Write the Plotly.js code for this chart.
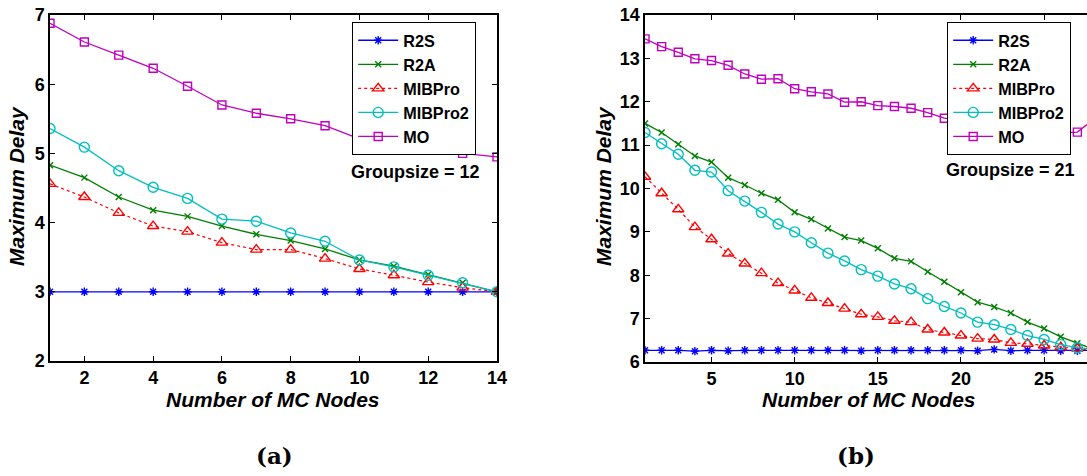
<!DOCTYPE html>
<html>
<head>
<meta charset="utf-8">
<script src="https://cdn.plot.ly/plotly-3.0.1.min.js"></script>
<style>
html, body { margin: 0; padding: 0; overflow: hidden; background: #fff; width: 1087px; height: 476px; }
#chart { width: 1110px; height: 476px; }
</style>
</head>
<body>
<div id="chart"></div>
<script>
// ---------- data: panel (a), Groupsize = 12 ----------
const nodesA = [1, 2, 3, 4, 5, 6, 7, 8, 9, 10, 11, 12, 13, 14];
const r2sA    = [3, 3, 3, 3, 3, 3, 3, 3, 3, 3, 3, 3, 3, 3];
const r2aA    = [4.83, 4.65, 4.37, 4.18, 4.09, 3.95, 3.83, 3.74, 3.62, 3.46, 3.37, 3.25, 3.13, 3.0];
const mibproA = [4.56, 4.37, 4.14, 3.95, 3.87, 3.71, 3.61, 3.61, 3.48, 3.33, 3.24, 3.14, 3.06, 3.0];
const mibpro2A= [5.36, 5.09, 4.75, 4.51, 4.35, 4.05, 4.02, 3.85, 3.73, 3.46, 3.36, 3.24, 3.13, 3.0];
const moA     = [6.88, 6.61, 6.42, 6.23, 5.97, 5.70, 5.58, 5.50, 5.40, 5.21, 5.15, 5.05, 5.00, 4.95];

// ---------- data: panel (b), Groupsize = 21 ----------
const nodesB = [1, 2, 3, 4, 5, 6, 7, 8, 9, 10, 11, 12, 13, 14, 15, 16, 17, 18, 19, 20, 21, 22, 23, 24, 25, 26, 27, 28];
const r2sB    = [6.27, 6.27, 6.27, 6.25, 6.27, 6.26, 6.27, 6.27, 6.27, 6.27, 6.27, 6.27, 6.27, 6.26, 6.27, 6.27, 6.27, 6.27, 6.27, 6.27, 6.26, 6.29, 6.26, 6.27, 6.27, 6.26, 6.26, 6.27];
const r2aB    = [11.50, 11.29, 11.02, 10.75, 10.61, 10.25, 10.08, 9.89, 9.74, 9.45, 9.29, 9.08, 8.88, 8.80, 8.62, 8.39, 8.32, 8.08, 7.85, 7.61, 7.38, 7.27, 7.13, 6.92, 6.77, 6.58, 6.43, 6.29];
const mibproB = [10.27, 9.89, 9.52, 9.11, 8.83, 8.50, 8.27, 8.05, 7.82, 7.65, 7.48, 7.36, 7.23, 7.10, 7.04, 6.95, 6.92, 6.75, 6.68, 6.61, 6.54, 6.52, 6.44, 6.42, 6.38, 6.34, 6.31, 6.27];
const mibpro2B= [11.29, 11.03, 10.79, 10.42, 10.38, 9.95, 9.71, 9.45, 9.18, 9.00, 8.75, 8.51, 8.33, 8.13, 7.98, 7.80, 7.69, 7.46, 7.28, 7.13, 6.92, 6.86, 6.75, 6.61, 6.52, 6.40, 6.33, 6.29];
const moB     = [13.45, 13.27, 13.14, 12.99, 12.95, 12.84, 12.64, 12.52, 12.53, 12.30, 12.23, 12.18, 11.99, 12.00, 11.91, 11.89, 11.85, 11.75, 11.62, 11.56, 11.50, 11.45, 11.40, 11.36, 11.32, 11.28, 11.30, 11.60];

const seriesNames = ['R2S', 'R2A', 'MIBPro', 'MIBPro2', 'MO'];
const xTicksA = [2, 4, 6, 8, 10, 12, 14];
const yTicksA = [2, 3, 4, 5, 6, 7];
const xTicksB = [5, 10, 15, 20, 25];
const yTicksB = [6, 7, 8, 9, 10, 11, 12, 13, 14];
const groupLabels = ['Groupsize = 12', 'Groupsize = 21'];
const xTitle = 'Number of MC Nodes';
const yTitle = 'Maximum Delay';
const captions = ['(a)', '(b)'];

// ---------- styles ----------
const styles = [
  {color: '#0000ff', symbol: 'asterisk-open', size: 7, dash: 'solid'},
  {color: '#007f00', symbol: 'x-thin-open', size: 6, dash: 'solid'},
  {color: '#ff0000', symbol: 'triangle-up-open', size: 10, dash: 'dot'},
  {color: '#00bfbf', symbol: 'circle-open', size: 10, dash: 'solid'},
  {color: '#bf00bf', symbol: 'square-open', size: 8, dash: 'solid'}
];

const W = 1110, H = 476;
const px = v => v / W;
const py = v => 1 - v / H;

function makeTraces(x, ys, xa, ya, legendId) {
  return ys.map((y, i) => ({
    type: 'scatter', mode: 'lines+markers',
    x: x, y: y, name: seriesNames[i],
    xaxis: xa, yaxis: ya, legend: legendId,
    line: {color: styles[i].color, width: styles[i].dash === 'dot' ? 1.2 : 1.3, dash: styles[i].dash},
    marker: {symbol: styles[i].symbol, size: styles[i].size, color: styles[i].color,
             line: {color: styles[i].color, width: 1.4}}
  }));
}

const traces = [
  ...makeTraces(nodesA, [r2sA, r2aA, mibproA, mibpro2A, moA], 'x', 'y', 'legend'),
  ...makeTraces(nodesB, [r2sB, r2aB, mibproB, mibpro2B, moB], 'x2', 'y2', 'legend2')
];

const tickFont = {family: 'Liberation Sans, Arial, sans-serif', size: 18, color: '#000', weight: 'bold'};
const axisCommon = {
  showgrid: false, zeroline: false, showline: true, linecolor: '#000', linewidth: 1.6,
  mirror: 'ticks', ticks: 'inside', ticklen: 5, tickwidth: 1, tickcolor: '#000',
  tickfont: tickFont, tickmode: 'array'
};

const legendCommon = {
  bgcolor: '#fff', bordercolor: '#000', borderwidth: 1.2,
  font: {family: 'Liberation Sans, Arial, sans-serif', size: 16.2, color: '#000', weight: 'bold'},
  xanchor: 'left', yanchor: 'top', tracegroupgap: 0, itemwidth: 40
};

const titleFont = {family: 'Liberation Sans, Arial, sans-serif', size: 21, color: '#000', weight: 'bold', style: 'italic'};
const textFont = {family: 'Liberation Sans, Arial, sans-serif', size: 18, color: '#000', weight: 'bold'};
const capFont = {family: 'DejaVu Serif, serif', size: 23, color: '#000', weight: 'bold'};

const layout = {
  width: W, height: H,
  margin: {l: 0, r: 0, t: 0, b: 0},
  paper_bgcolor: '#fff', plot_bgcolor: '#fff',
  showlegend: true,
  xaxis: Object.assign({}, axisCommon, {domain: [px(50), px(497)], range: [1, 14], tickvals: xTicksA, anchor: 'y'}),
  yaxis: Object.assign({}, axisCommon, {domain: [py(361), py(15)], range: [2, 7], tickvals: yTicksA, anchor: 'x'}),
  xaxis2: Object.assign({}, axisCommon, {domain: [px(645), px(1094)], range: [1, 28], tickvals: xTicksB, anchor: 'y2'}),
  yaxis2: Object.assign({}, axisCommon, {domain: [py(362), py(15)], range: [6, 14], tickvals: yTicksB, anchor: 'x2'}),
  legend: Object.assign({}, legendCommon, {x: px(352), y: py(22)}),
  legend2: Object.assign({}, legendCommon, {x: px(947), y: py(22)}),
  annotations: [
    {text: groupLabels[0], xref: 'paper', yref: 'paper', x: px(415), y: py(172), showarrow: false, font: textFont, xanchor: 'center', yanchor: 'middle'},
    {text: groupLabels[1], xref: 'paper', yref: 'paper', x: px(1010), y: py(170), showarrow: false, font: textFont, xanchor: 'center', yanchor: 'middle'},
    {text: xTitle, xref: 'paper', yref: 'paper', x: px(273), y: py(399), showarrow: false, font: titleFont, xanchor: 'center', yanchor: 'middle'},
    {text: xTitle, xref: 'paper', yref: 'paper', x: px(869), y: py(399), showarrow: false, font: titleFont, xanchor: 'center', yanchor: 'middle'},
    {text: yTitle, xref: 'paper', yref: 'paper', x: px(17), y: py(186), showarrow: false, font: titleFont, textangle: -90, xanchor: 'center', yanchor: 'middle'},
    {text: yTitle, xref: 'paper', yref: 'paper', x: px(604), y: py(186), showarrow: false, font: titleFont, textangle: -90, xanchor: 'center', yanchor: 'middle'},
    {text: captions[0], xref: 'paper', yref: 'paper', x: px(274), y: py(455), showarrow: false, font: capFont, xanchor: 'center', yanchor: 'middle'},
    {text: captions[1], xref: 'paper', yref: 'paper', x: px(856), y: py(455), showarrow: false, font: capFont, xanchor: 'center', yanchor: 'middle'}
  ]
};

Plotly.newPlot('chart', traces, layout, {displayModeBar: false, staticPlot: true});
</script>
</body>
</html>
